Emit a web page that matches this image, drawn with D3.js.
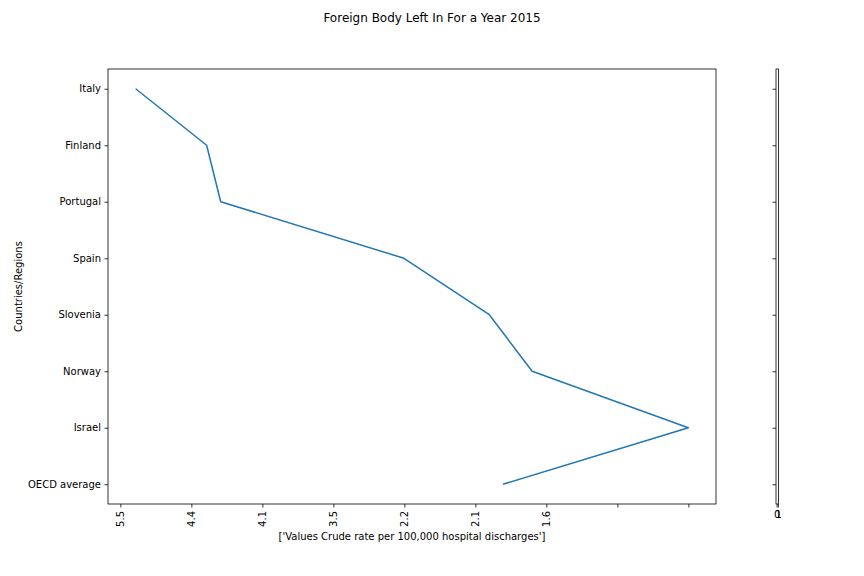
<!DOCTYPE html>
<html><head><meta charset="utf-8">
<script src="https://cdn.jsdelivr.net/npm/d3@7"></script>
<style>body{margin:0;background:#fff}svg{display:block}text{font-family:"DejaVu Sans",sans-serif;fill:#000}</style>
</head><body>
<script>
const countries = ["Italy","Finland","Portugal","Spain","Slovenia","Norway","Israel","OECD average"];
const positions = [0.215, 1.215, 1.413, 3.994, 5.196, 5.80, 8.0, 5.39];
const tickValues = [0,1,2,3,4,5,6,7,8];
const tickLabels = ["5.5","4.4","4.1","3.5","2.2","2.1","1.6","",""];
const title = "Foreign Body Left In For a Year 2015";
const xLabel = "['Values Crude rate per 100,000 hospital discharges']";
const yLabel = "Countries/Regions";

const W=864,H=576;
const L=108,R=716,T=69,B=504;
const svg=d3.select("body").append("svg").attr("width",W).attr("height",H);

const xmin=d3.min(positions), xmax=d3.max(positions), rng=xmax-xmin;
const x=d3.scaleLinear().domain([xmin-0.05*rng,xmax+0.05*rng]).range([L,R]);
const y=d3.scaleLinear().domain([-0.35,7.35]).range([T,B]);

// line
svg.append("path").datum(positions)
 .attr("fill","none").attr("stroke","#1f77b4").attr("stroke-width",1.5)
 .attr("stroke-linejoin","round")
 .attr("d",d3.line().x(d=>x(d)).y((d,i)=>y(i)));

// x axis
const xa=svg.append("g").attr("transform",`translate(0,${B})`)
 .call(d3.axisBottom(x).tickValues(tickValues).tickFormat((d,i)=>tickLabels[i]).tickSize(3.5).tickPadding(3.5));
xa.select(".domain").remove();
xa.selectAll("line").attr("stroke","#000").attr("stroke-width",0.8);
xa.selectAll("text").attr("font-size",10).attr("transform","rotate(-90)")
 .attr("text-anchor","end").attr("x",-7).attr("y",0).attr("dy","0.35em").style("font-family","DejaVu Sans");

// y axis
const ya=svg.append("g").attr("transform",`translate(${L},0)`)
 .call(d3.axisLeft(y).tickValues(d3.range(countries.length)).tickFormat(i=>countries[i]).tickSize(3.5).tickPadding(3.5));
ya.select(".domain").remove();
ya.selectAll("line").attr("stroke","#000").attr("stroke-width",0.8);
ya.selectAll("text").attr("font-size",10).style("font-family","DejaVu Sans");

// frame
svg.append("rect").attr("x",L).attr("y",T).attr("width",R-L).attr("height",B-T)
 .attr("fill","none").attr("stroke","#000").attr("stroke-width",0.8);

// thin right axes
const tL=776,tR=778.5;
svg.append("rect").attr("x",tL).attr("y",T).attr("width",tR-tL).attr("height",B-T)
 .attr("fill","none").attr("stroke","#000").attr("stroke-width",0.8);
const ta=svg.append("g").attr("transform",`translate(${tL},0)`)
 .call(d3.axisLeft(y).tickValues(d3.range(countries.length)).tickFormat("").tickSize(3.5));
ta.select(".domain").remove();
ta.selectAll("line").attr("stroke","#000").attr("stroke-width",0.8);
const tx=d3.scaleLinear().domain([0,1]).range([tL+0.6,tR-0.6]);
const tb=svg.append("g").attr("transform",`translate(0,${B})`)
 .call(d3.axisBottom(tx).tickValues([0,1]).tickFormat(d3.format("d")).tickSize(3.5).tickPadding(3.5));
tb.select(".domain").remove();
tb.selectAll("line").attr("stroke","#000").attr("stroke-width",0.8);
tb.selectAll("text").attr("font-size",10).style("font-family","DejaVu Sans");

// labels
svg.append("text").attr("x",(L+R)/2).attr("y",540).attr("text-anchor","middle").attr("font-size",10).text(xLabel);
svg.append("text").attr("transform",`translate(22,${(T+B)/2}) rotate(-90)`).attr("text-anchor","middle").attr("font-size",10).text(yLabel);
svg.append("text").attr("x",W/2).attr("y",22).attr("text-anchor","middle").attr("font-size",12).text(title);
</script>
</body></html>
